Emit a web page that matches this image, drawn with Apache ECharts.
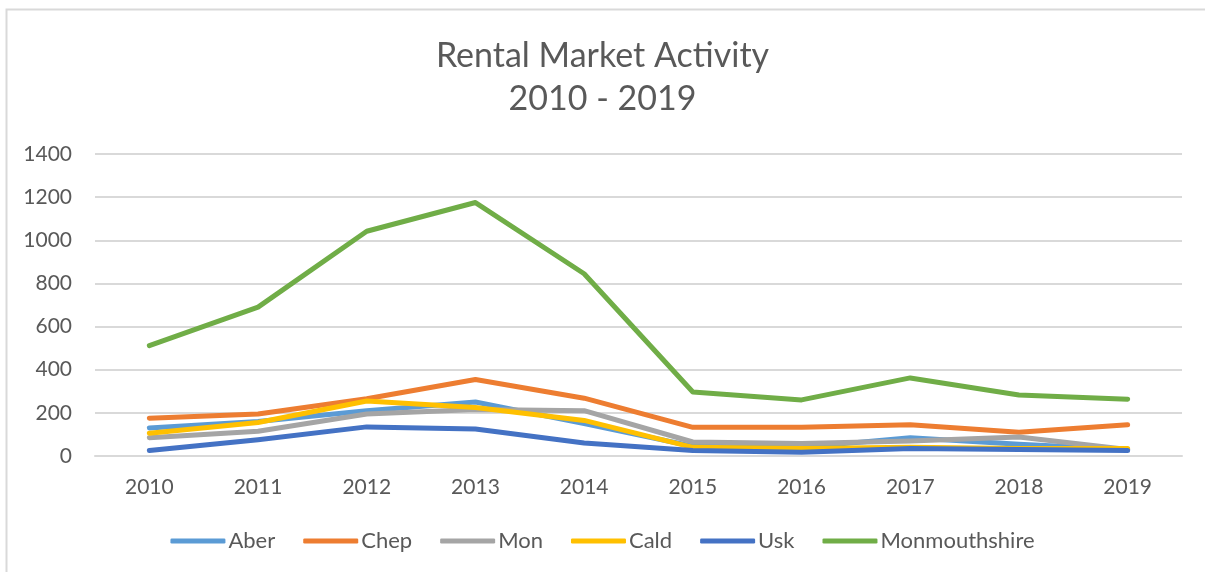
<!DOCTYPE html>
<html>
<head>
<meta charset="utf-8">
<title>Rental Market Activity</title>
<script src="https://cdn.jsdelivr.net/npm/echarts@6/dist/echarts.min.js"></script>
<style>
  html, body { margin: 0; padding: 0; background: #fff; }
  #chart { width: 1205px; height: 572px; }
</style>
</head>
<body>
<div id="chart"></div>
<script>
// years on the x axis
var years = ['2010', '2011', '2012', '2013', '2014', '2015', '2016', '2017', '2018', '2019'];

// values
var aber = [130, 160, 210, 250, 150, 45, 40, 85, 55, 30];
var chep = [175, 195, 265, 355, 268, 133, 133, 145, 110, 145];
var mon = [85, 115, 195, 215, 210, 65, 58, 70, 88, 30];
var cald = [105, 155, 255, 225, 165, 40, 35, 40, 35, 35];
var usk = [25, 75, 135, 125, 60, 25, 17, 35, 30, 25];
var monmouthshire = [512, 690, 1042, 1175, 845, 297, 260, 362, 283, 263];

var textColor = '#595959';
var font = 'Lato, "Open Sans", sans-serif';

function makeLine(name, data, color) {
  return {
    name: name,
    type: 'line',
    data: data,
    symbol: 'none',
    color: color,
    lineStyle: { width: 5, color: color, cap: 'round', join: 'round' }
  };
}

var chart = echarts.init(document.getElementById('chart'));

var option = {
  animation: false,
  backgroundColor: '#fff',
  title: {
    text: 'Rental Market Activity\n2010 - 2019',
    left: 'center',
    top: 30,
    textStyle: {
      fontFamily: font,
      fontSize: 34,
      fontWeight: 'normal',
      color: textColor,
      lineHeight: 43
    }
  },
  graphic: [{
    type: 'rect',
    shape: { x: 6.5, y: 9.5, width: 1220, height: 620 },
    style: { fill: null, stroke: '#d9d9d9', lineWidth: 2 },
    silent: true
  }],
  legend: {
    top: 525,
    left: 'center',
    icon: 'roundRect',
    itemWidth: 55,
    itemHeight: 5,
    itemGap: 28,
    textStyle: { fontFamily: font, fontSize: 22, color: textColor, padding: [0, 0, 0, -2] },
    data: ['Aber', 'Chep', 'Mon', 'Cald', 'Usk', 'Monmouthshire']
  },
  grid: { left: 95, right: 23, top: 154, bottom: 116 },
  xAxis: {
    type: 'category',
    data: years,
    boundaryGap: true,
    axisLine: { lineStyle: { color: '#d9d9d9', width: 2 } },
    axisTick: { show: false },
    axisLabel: { fontFamily: font, fontSize: 21, color: textColor, margin: 21 }
  },
  yAxis: {
    type: 'value',
    min: 0,
    max: 1400,
    interval: 200,
    axisLine: { show: false },
    axisTick: { show: false },
    splitLine: { lineStyle: { color: '#d9d9d9', width: 2 } },
    axisLabel: {
      fontFamily: font,
      fontSize: 21,
      color: textColor,
      margin: 23,
      formatter: function (v) { return String(v); }
    }
  },
  series: [
    makeLine('Aber', aber, '#5B9BD5'),
    makeLine('Chep', chep, '#ED7D31'),
    makeLine('Mon', mon, '#A5A5A5'),
    makeLine('Cald', cald, '#FFC000'),
    makeLine('Usk', usk, '#4472C4'),
    makeLine('Monmouthshire', monmouthshire, '#70AD47')
  ]
};

chart.setOption(option);
</script>
</body>
</html>
